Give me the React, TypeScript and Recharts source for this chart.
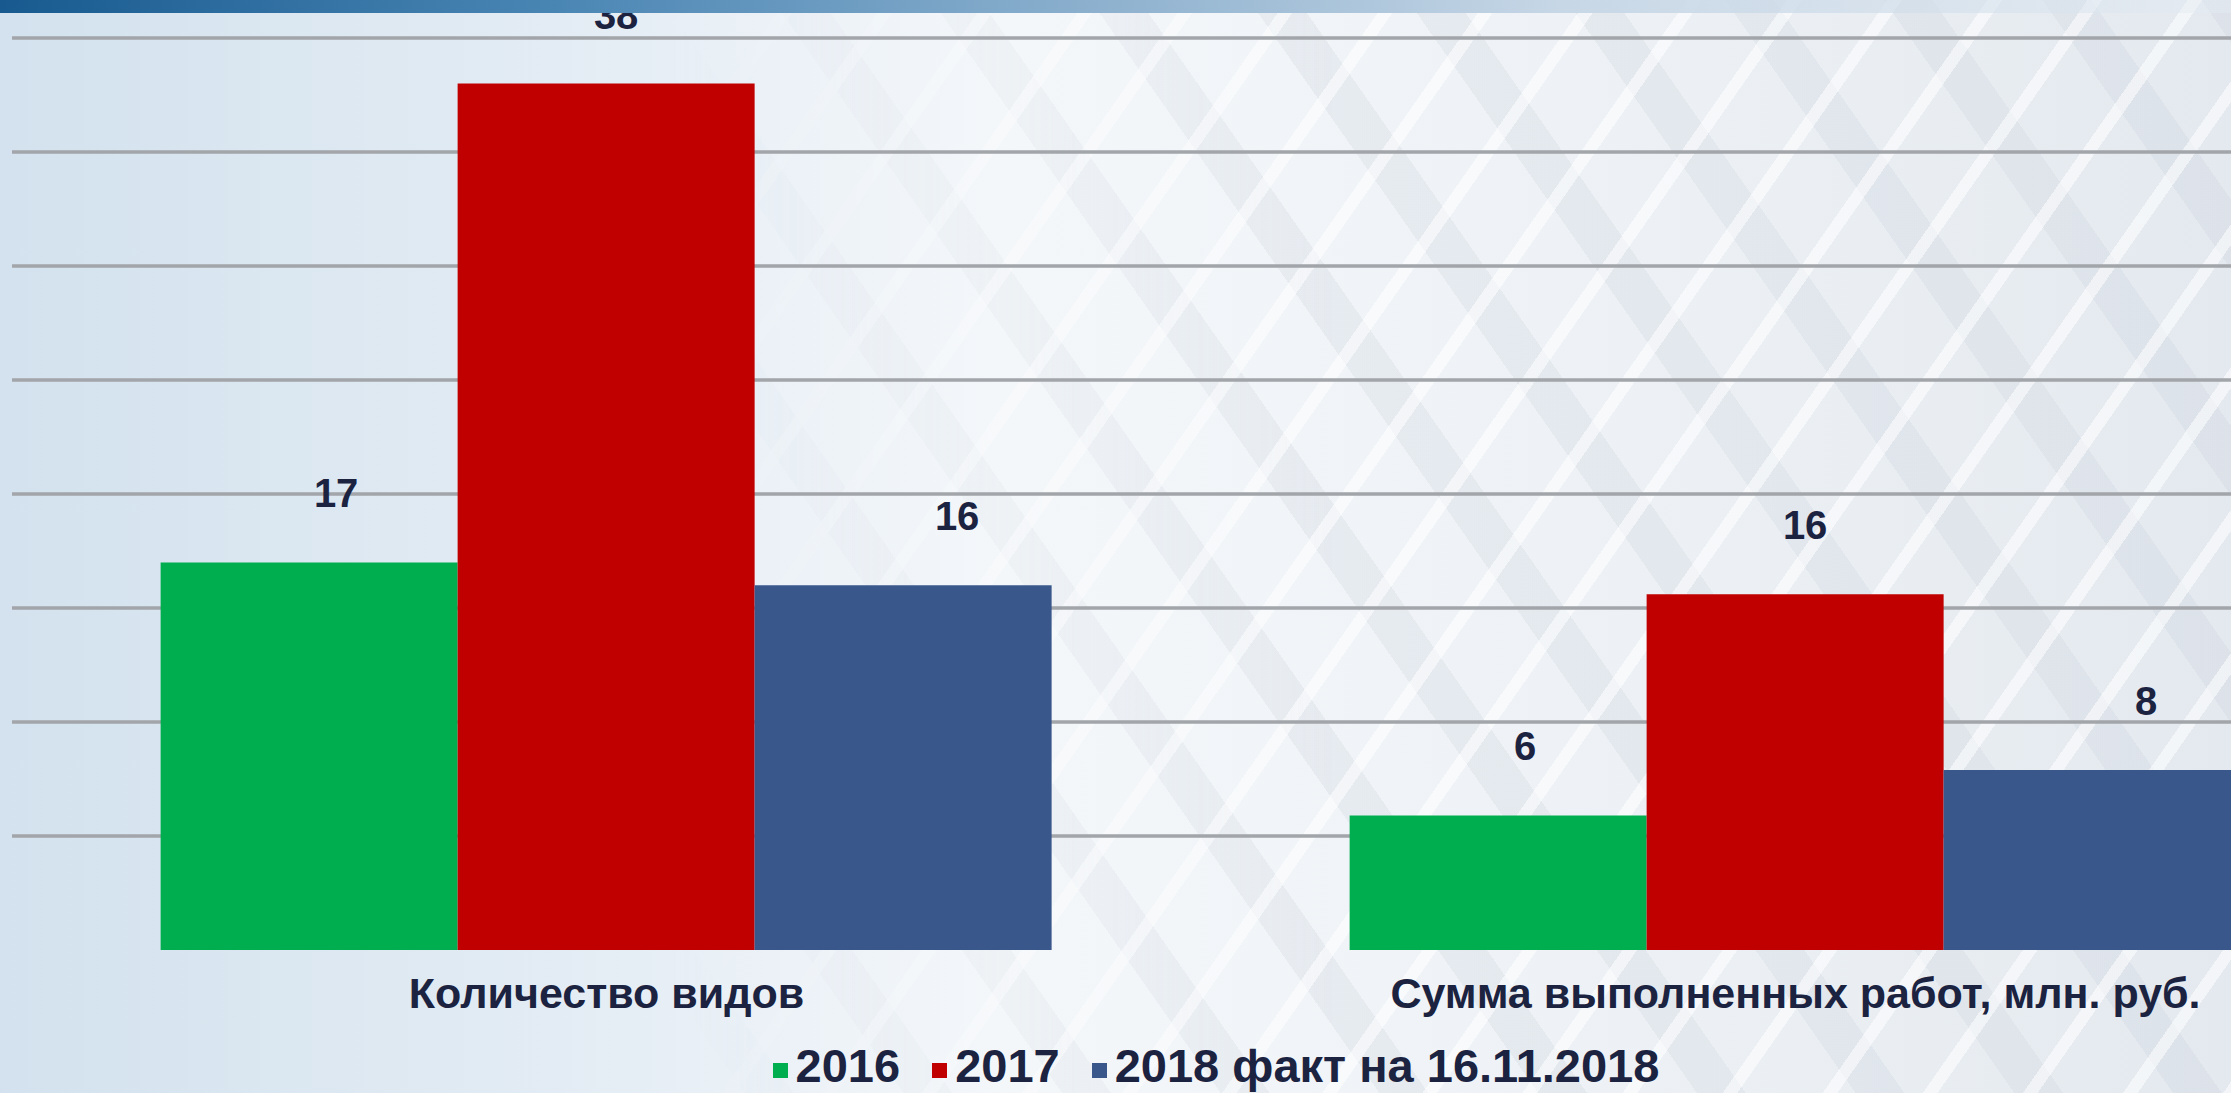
import React from "react";
import {
  Bar,
  BarChart,
  CartesianGrid,
  LabelList,
  Legend,
  XAxis,
  YAxis,
} from "recharts";

const categories = ["Количество видов", "Сумма выполненных работ, млн. руб."];
const values2016 = [17, 5.9];
const values2017 = [38, 15.6];
const values2018 = [16, 7.9];
const seriesNames = ["2016", "2017", "2018 факт на 16.11.2018"];
const seriesColors = ["#00ad4f", "#c00000", "#3a578c"];
// gridlines only; no line on the baseline itself
const yTicks = [5, 10, 15, 20, 25, 30, 35, 40];

const data = categories.map((name, i) => ({
  name,
  s2016: values2016[i],
  s2017: values2017[i],
  s2018: values2018[i],
}));
const keys = ["s2016", "s2017", "s2018"];
const labelShift = [27, 10, 54];

const FONT = '"Liberation Sans", Arial, sans-serif';
const TEXT = "#1b2340";

function LegendContent() {
  return (
    <div
      style={{
        display: "flex",
        justifyContent: "center",
        alignItems: "center",
        fontFamily: FONT,
        fontWeight: 700,
        fontSize: 47,
        lineHeight: "56px",
        color: TEXT,
      }}
    >
      {seriesNames.map((n, i) => (
        <div
          key={n}
          style={{ display: "flex", alignItems: "center", marginRight: 32 }}
        >
          <span
            style={{
              width: 15,
              height: 15,
              background: seriesColors[i],
              marginRight: 8,
              marginTop: 8,
            }}
          />
          <span>{n}</span>
        </div>
      ))}
    </div>
  );
}

export default function App() {
  return (
    <div
      style={{
        position: "fixed",
        left: 0,
        top: 0,
        width: 2231,
        height: 1093,
        overflow: "hidden",
        background:
          "linear-gradient(90deg, #d3e2ee 0%, #e3ecf4 25%, #f4f7fa 45%, #eef2f6 70%, #e4e9ef 100%)",
      }}
    >
      <div
        style={{
          position: "absolute",
          inset: 0,
          background:
            "repeating-linear-gradient(125deg, rgba(255,255,255,0) 0 70px, rgba(255,255,255,0.55) 70px 82px), repeating-linear-gradient(55deg, rgba(200,208,218,0) 0 90px, rgba(200,208,218,0.25) 90px 130px)",
          WebkitMaskImage:
            "linear-gradient(90deg, rgba(0,0,0,0) 30%, rgba(0,0,0,1) 60%)",
          maskImage:
            "linear-gradient(90deg, rgba(0,0,0,0) 30%, rgba(0,0,0,1) 60%)",
        }}
      />
      <div style={{ position: "absolute", left: 0, top: 0 }}>
        <BarChart
          width={2400}
          height={1093}
          data={data}
          margin={{ top: 38, right: 10, bottom: 0, left: 12 }}
          barGap={0}
          barCategoryGap="12.5%"
        >
          <CartesianGrid
            vertical={false}
            stroke="#a2a5a9"
            strokeWidth={3.5}
            syncWithTicks
          />
          <XAxis
            dataKey="name"
            height={143}
            axisLine={false}
            tickLine={false}
            tickMargin={21}
            interval={0}
            tick={{
              fill: TEXT,
              fontSize: 43,
              fontWeight: 700,
              fontFamily: FONT,
            }}
          />
          <YAxis hide domain={[0, 40]} ticks={yTicks} />
          <Legend
            layout="horizontal"
            verticalAlign="middle"
            align="center"
            content={<LegendContent />}
            wrapperStyle={{ left: 0, top: 1038, width: 2464 }}
          />
          {keys.map((k, i) => (
            <Bar
              key={k}
              dataKey={k}
              name={seriesNames[i]}
              fill={seriesColors[i]}
              isAnimationActive={false}
            >
              <LabelList
                dataKey={k}
                position="top"
                offset={55}
                formatter={(v: number) => Math.round(v)}
                style={{
                  fill: TEXT,
                  fontSize: 40,
                  fontWeight: 700,
                  fontFamily: FONT,
                  transform: `translateX(${labelShift[i]}px)`,
                }}
              />
            </Bar>
          ))}
        </BarChart>
      </div>
      <div
        style={{
          position: "absolute",
          left: 0,
          top: 0,
          width: "100%",
          height: 13,
          background:
            "linear-gradient(90deg, #185a8f 0%, #4a86b4 25%, #8fb2cf 50%, #c7d7e6 70%, rgba(230,237,244,0.4) 100%)",
        }}
      />
    </div>
  );
}
